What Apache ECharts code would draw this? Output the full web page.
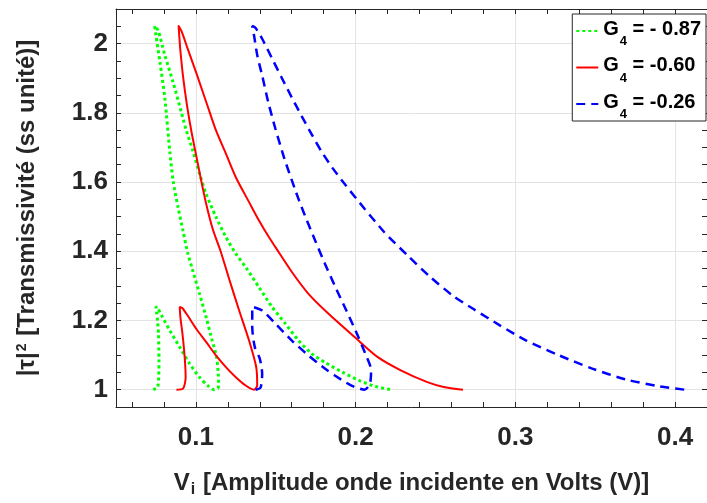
<!DOCTYPE html>
<html>
<head>
<meta charset="utf-8">
<script src="https://cdn.jsdelivr.net/npm/echarts@6/dist/echarts.min.js"></script>
<style>
html,body{margin:0;padding:0;background:#fff;}
#chart{width:707px;height:503px;}
</style>
</head>
<body>
<div id="chart"></div>
<script>
// ---- data (x = Vi in volts, y = |tau|^2) ----
const legendValues = ['- 0.87', '-0.60', '-0.26'];

const greenV = [0.0733,0.0762,0.0769,0.0766,0.0760,0.0754,0.0750,0.0760,0.0785,0.0837,0.0899,0.0961,0.1023,0.1074,0.1116,0.1136,0.1143,0.1140,0.1130,0.1102,0.1064,0.1023,0.0977,0.0950,0.0919,0.0888,0.0857,0.0837,0.0806,0.0775,0.0750,0.0742,0.0764,0.0806,0.0857,0.0909,0.0940,0.0981,0.1023,0.1064,0.1126,0.1188,0.1250,0.1312,0.1395,0.1477,0.1560,0.1643,0.1725,0.1815,0.1920,0.2030,0.2120,0.2220];
const greenT = [1.000,1.008,1.085,1.162,1.200,1.225,1.240,1.236,1.215,1.171,1.123,1.075,1.036,1.012,1.000,1.004,1.012,1.046,1.094,1.142,1.210,1.277,1.350,1.393,1.460,1.528,1.605,1.687,1.841,1.947,2.024,2.051,2.038,1.966,1.889,1.802,1.749,1.691,1.624,1.566,1.499,1.441,1.393,1.354,1.296,1.239,1.191,1.142,1.104,1.077,1.050,1.025,1.010,1.000];

const redV = [0.0878,0.0920,0.0936,0.0930,0.0916,0.0903,0.0899,0.0915,0.0940,0.1002,0.1064,0.1126,0.1188,0.1250,0.1312,0.1364,0.1384,0.1378,0.1333,0.1271,0.1205,0.1155,0.1105,0.1064,0.1033,0.1002,0.0971,0.0945,0.0921,0.0903,0.0895,0.0892,0.0912,0.0948,0.1008,0.1068,0.1126,0.1188,0.1250,0.1333,0.1395,0.1457,0.1498,0.1601,0.1705,0.1829,0.1994,0.2139,0.2283,0.2449,0.2552,0.2672];
const redT = [1.000,1.003,1.036,1.094,1.162,1.210,1.239,1.236,1.220,1.176,1.138,1.099,1.065,1.036,1.012,1.000,1.012,1.065,1.142,1.229,1.325,1.400,1.465,1.538,1.605,1.677,1.749,1.820,1.900,1.980,2.030,2.051,2.034,1.986,1.908,1.827,1.749,1.682,1.614,1.542,1.489,1.441,1.412,1.340,1.277,1.220,1.152,1.094,1.056,1.022,1.008,1.000];

const blueV = [0.1374,0.1405,0.1415,0.1400,0.1369,0.1353,0.1353,0.1415,0.1498,0.1601,0.1705,0.1808,0.1870,0.1974,0.2056,0.2090,0.2097,0.2061,0.2005,0.1942,0.1880,0.1808,0.1746,0.1695,0.1646,0.1619,0.1554,0.1498,0.1453,0.1415,0.1385,0.1364,0.1353,0.1374,0.1415,0.1477,0.1539,0.1601,0.1663,0.1725,0.1787,0.1855,0.1927,0.2056,0.2180,0.2325,0.2469,0.2614,0.2738,0.2903,0.3069,0.3275,0.3482,0.3689,0.3895,0.4061];
const blueT = [1.000,1.006,1.046,1.090,1.123,1.181,1.240,1.229,1.191,1.142,1.099,1.061,1.041,1.012,1.000,1.018,1.056,1.104,1.165,1.229,1.290,1.364,1.432,1.489,1.547,1.581,1.668,1.754,1.831,1.908,1.965,2.024,2.051,2.045,2.014,1.957,1.900,1.844,1.790,1.738,1.688,1.641,1.597,1.523,1.455,1.388,1.325,1.270,1.233,1.186,1.142,1.099,1.061,1.030,1.010,1.000];

// axis ranges and tick steps
const xRange = [0.05, 0.42];
const yRange = [0.95, 2.1];
const xMajorStep = 0.1, xMinorStep = 0.02;
const yMajorStep = 0.2, yMinorStep = 0.05;

const zip = (a, b) => a.map((v, i) => [v, b[i]]);

const FONT = '"Liberation Sans", Arial, Helvetica, sans-serif';
const AX = '#262626';
const GRID = '#e3e3e3';

const tickAxisX = (pos, line) => ({
  type: 'value', position: pos, min: xRange[0], max: xRange[1],
  minInterval: xMinorStep, maxInterval: xMinorStep, splitNumber: 18,
  axisLine: { show: line, onZero: false, lineStyle: { color: AX, width: 1 } },
  axisTick: { show: true, inside: true, length: 5, lineStyle: { color: AX, width: 1 } },
  axisLabel: { show: false }, splitLine: { show: false }
});
const tickAxisY = (pos, line) => ({
  type: 'value', position: pos, min: yRange[0], max: yRange[1],
  interval: yMinorStep,
  axisLine: { show: line, onZero: false, lineStyle: { color: AX, width: 1 } },
  axisTick: { show: true, inside: true, length: 5, lineStyle: { color: AX, width: 1 } },
  axisLabel: { show: false }, splitLine: { show: false }
});

const names = legendValues.map(v => 'G4 = ' + v);

const chart = echarts.init(document.getElementById('chart'), null, { renderer: 'canvas' });
chart.setOption({
  animation: false,
  backgroundColor: '#ffffff',
  grid: { left: 116, top: 9, width: 597, height: 398, containLabel: false },
  xAxis: [
    {
      type: 'value', position: 'bottom', min: xRange[0], max: xRange[1],
      minInterval: xMajorStep, maxInterval: xMajorStep, splitNumber: 4,
      axisLine: { show: true, onZero: false, lineStyle: { color: AX, width: 1 } },
      axisTick: { show: false },
      axisLabel: {
        show: true, showMinLabel: false, showMaxLabel: false, margin: 18,
        color: AX, fontFamily: FONT, fontWeight: 'bold', fontSize: 26
      },
      splitLine: { show: true, lineStyle: { color: GRID, width: 1 } },
      name: '{t|V}{s|i}{t| [Amplitude onde incidente en Volts (V)]}',
      nameLocation: 'middle', nameGap: 64,
      nameTextStyle: {
        rich: {
          t: { fontFamily: FONT, fontWeight: 'bold', fontSize: 24, lineHeight: 28, color: AX, verticalAlign: 'top' },
          s: { fontFamily: FONT, fontWeight: 'bold', fontSize: 16, lineHeight: 18, color: AX, verticalAlign: 'top', padding: [11, 1, 0, 1] }
        }
      }
    },
    tickAxisX('bottom', false),
    tickAxisX('top', true)
  ],
  yAxis: [
    {
      type: 'value', position: 'left', min: yRange[0], max: yRange[1],
      minInterval: yMajorStep, maxInterval: yMajorStep, splitNumber: 6,
      axisLine: { show: true, onZero: false, lineStyle: { color: AX, width: 1 } },
      axisTick: { show: false },
      axisLabel: {
        show: true, showMinLabel: false, showMaxLabel: false, margin: 8,
        color: AX, fontFamily: FONT, fontWeight: 'bold', fontSize: 26
      },
      splitLine: { show: true, lineStyle: { color: GRID, width: 1 } },
      name: '{t||τ|}{p|2}{t| [Transmissivité (ss unité)]}',
      nameLocation: 'middle', nameGap: 73, nameRotate: 90,
      nameTextStyle: {
        rich: {
          t: { fontFamily: FONT, fontWeight: 'bold', fontSize: 24, lineHeight: 28, color: AX, verticalAlign: 'top' },
          p: { fontFamily: FONT, fontWeight: 'bold', fontSize: 14, lineHeight: 16, color: AX, verticalAlign: 'top', padding: [0, 1, 0, 1] }
        }
      }
    },
    tickAxisY('left', false),
    tickAxisY('right', true)
  ],
  legend: {
    orient: 'vertical', right: 1, top: 14,
    backgroundColor: '#ffffff', borderColor: AX, borderWidth: 1, borderRadius: 0,
    padding: [5, 5, 0, 3], itemWidth: 22, itemHeight: 10, itemGap: 7.5,
    itemStyle: { opacity: 0, borderWidth: 0 },
    data: names,
    formatter: function (name) {
      const v = legendValues[names.indexOf(name)];
      return '{g|G}{s|4}{g| = ' + v + '}';
    },
    textStyle: {
      rich: {
        g: { fontFamily: FONT, fontWeight: 'bold', fontSize: 20, lineHeight: 24, color: '#000', verticalAlign: 'top' },
        s: { fontFamily: FONT, fontWeight: 'bold', fontSize: 13, lineHeight: 14, color: '#000', verticalAlign: 'top', padding: [16, 0, 0, 1] }
      }
    }
  },
  series: [
    {
      name: names[0], type: 'line', xAxisIndex: 0, yAxisIndex: 0,
      data: zip(greenV, greenT), symbol: 'none', showSymbol: false, smooth: 0.25,
      lineStyle: { color: '#00ff00', width: 3, type: [3, 3], cap: 'butt' },
      itemStyle: { color: '#00ff00' }
    },
    {
      name: names[1], type: 'line', xAxisIndex: 0, yAxisIndex: 0,
      data: zip(redV, redT), symbol: 'none', showSymbol: false, smooth: 0.25,
      lineStyle: { color: '#ff0000', width: 2 },
      itemStyle: { color: '#ff0000' }
    },
    {
      name: names[2], type: 'line', xAxisIndex: 0, yAxisIndex: 0,
      data: zip(blueV, blueT), symbol: 'none', showSymbol: false, smooth: 0.25,
      lineStyle: { color: '#0000ff', width: 2.5, type: [9, 6] },
      itemStyle: { color: '#0000ff' }
    }
  ]
});
</script>
</body>
</html>
